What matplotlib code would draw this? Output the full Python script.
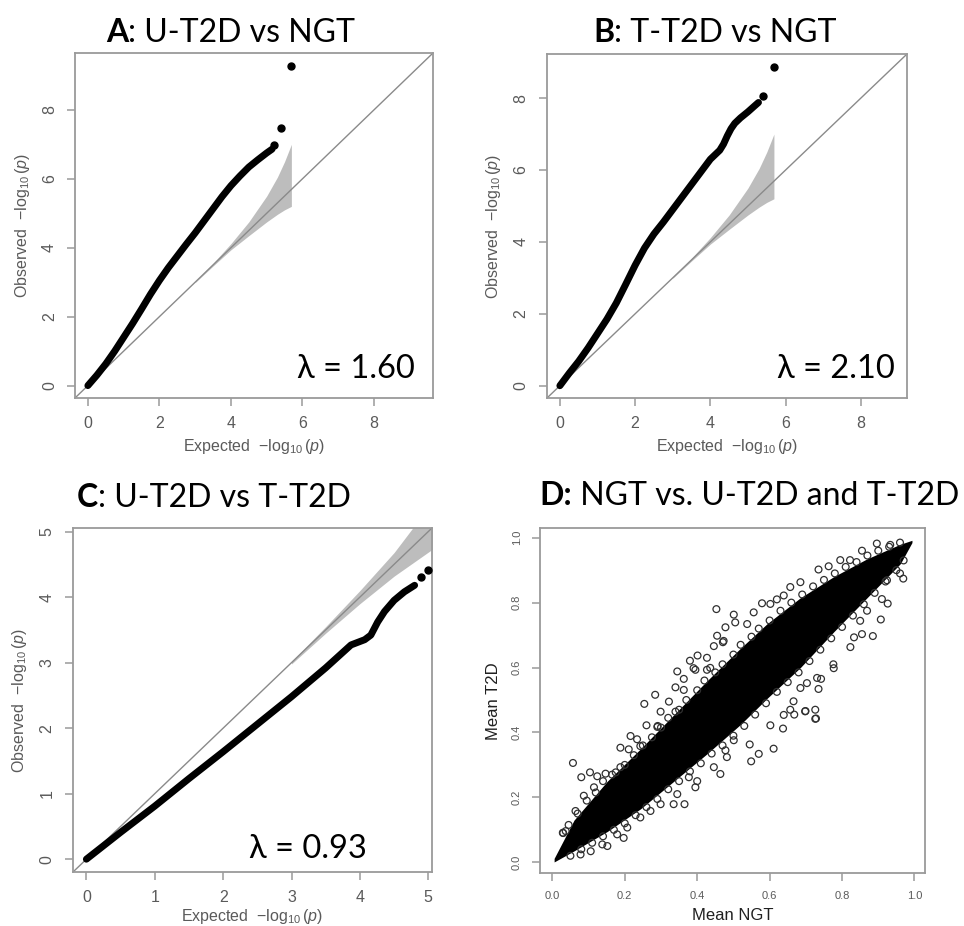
import matplotlib
matplotlib.use("Agg")
import matplotlib.pyplot as plt

W, H = 964, 926
plt.rcParams['mathtext.fontset'] = 'custom'
plt.rcParams['mathtext.rm'] = 'Liberation Sans'
plt.rcParams['mathtext.it'] = 'Liberation Sans:italic'
plt.rcParams['font.family'] = ['Liberation Sans', 'DejaVu Sans']

# ---------------- data ----------------
# Panel A: U-T2D vs NGT
a_exp = [0, 0.25, 0.5, 0.75, 1.0, 1.25, 1.5, 1.75, 2.0, 2.25, 2.5, 2.75, 3.0,
         3.25, 3.5, 3.75, 4.0, 4.25, 4.5, 4.75, 5.0, 5.15]
a_obs = [0, 0.3, 0.63, 1.0, 1.4, 1.8, 2.22, 2.65, 3.05, 3.42, 3.76, 4.1, 4.43,
         4.78, 5.13, 5.48, 5.8, 6.08, 6.34, 6.55, 6.75, 6.86]
a_top_exp = [5.21, 5.40, 5.69]
a_top_obs = [6.98, 7.48, 9.27]
a_lambda = "λ = 1.60"

# Panel B: T-T2D vs NGT
b_exp = [0, 0.25, 0.5, 0.75, 1.0, 1.25, 1.5, 1.75, 2.0, 2.25, 2.5, 2.75, 3.0,
         3.25, 3.5, 3.75, 4.0, 4.25, 4.35, 4.45, 4.55, 4.65, 4.8, 5.0, 5.15, 5.28]
b_obs = [0, 0.35, 0.68, 1.05, 1.45, 1.85, 2.3, 2.82, 3.35, 3.83, 4.22, 4.55, 4.9,
         5.25, 5.6, 5.95, 6.3, 6.55, 6.72, 6.95, 7.15, 7.3, 7.45, 7.62, 7.76, 7.88]
b_top_exp = [5.41, 5.70]
b_top_obs = [8.07, 8.86]
b_lambda = "λ = 2.10"

# confidence band for A and B
ab_band_exp = [3.0, 3.5, 4.0, 4.5, 5.0, 5.3, 5.5, 5.69]
ab_band_hi = [3.02, 3.55, 4.12, 4.75, 5.5, 6.05, 6.5, 7.0]
ab_band_lo = [2.99, 3.47, 3.94, 4.35, 4.75, 4.97, 5.1, 5.2]

# Panel C: U-T2D vs T-T2D
c_exp = [0, 0.5, 1.0, 1.5, 2.0, 2.5, 3.0, 3.5, 3.87, 4.07, 4.16, 4.26, 4.36,
         4.5, 4.65, 4.8]
c_obs = [0, 0.41, 0.81, 1.23, 1.64, 2.06, 2.48, 2.92, 3.27, 3.35, 3.42, 3.62,
         3.78, 3.95, 4.08, 4.18]
c_top_exp = [4.89, 5.0]
c_top_obs = [4.31, 4.41]
c_band_exp = [3.0, 3.5, 4.0, 4.5, 5.06]
c_band_hi = [3.02, 3.55, 4.1, 4.68, 5.45]
c_band_lo = [2.98, 3.45, 3.9, 4.32, 4.73]
c_lambda = "λ = 0.93"

# Panel D: dense core of the scatter (upper / lower edge) and visible single points
d_core_x = [0.005, 0.06, 0.152, 0.244, 0.336, 0.428, 0.52, 0.593, 0.685,
            0.777, 0.869, 0.961, 0.993]
d_core_hi = [0.012, 0.13, 0.25, 0.35, 0.455, 0.56, 0.66, 0.735, 0.815, 0.88,
             0.935, 0.98, 0.992]
d_core_lo = [0.001, 0.035, 0.095, 0.165, 0.25, 0.335, 0.425, 0.505, 0.6, 0.71,
             0.815, 0.92, 0.985]
d_pts = [
    # isolated points above the core
    (0.057, 0.306), (0.080, 0.262), (0.104, 0.277), (0.124, 0.265), (0.188, 0.353),
    (0.254, 0.488), (0.284, 0.516), (0.260, 0.422), (0.291, 0.420), (0.216, 0.389),
    (0.234, 0.379), (0.211, 0.348), (0.243, 0.358), (0.188, 0.293), (0.175, 0.277),
    (0.147, 0.273), (0.087, 0.205), (0.064, 0.158), (0.037, 0.096), (0.029, 0.091),
    (0.115, 0.231), (0.290, 0.417), (0.322, 0.495), (0.299, 0.464), (0.340, 0.464),
    (0.340, 0.539), (0.363, 0.565), (0.363, 0.531), (0.380, 0.621), (0.401, 0.637),
    (0.390, 0.598), (0.427, 0.593), (0.446, 0.666), (0.471, 0.678), (0.453, 0.780),
    (0.501, 0.763), (0.505, 0.739), (0.478, 0.724), (0.455, 0.698), (0.427, 0.630),
    (0.436, 0.599), (0.473, 0.682), (0.538, 0.734), (0.556, 0.770), (0.579, 0.798),
    (0.602, 0.796), (0.639, 0.822), (0.620, 0.810), (0.657, 0.848), (0.685, 0.863),
    (0.735, 0.902), (0.763, 0.912), (0.795, 0.931), (0.822, 0.931), (0.855, 0.960),
    (0.896, 0.982), (0.933, 0.978), (0.345, 0.588), (0.395, 0.593),
    # isolated points below the core
    (0.335, 0.179), (0.365, 0.179), (0.345, 0.210), (0.395, 0.231), (0.400, 0.250),
    (0.377, 0.262), (0.446, 0.293), (0.464, 0.272), (0.482, 0.324), (0.501, 0.376),
    (0.478, 0.345), (0.243, 0.138), (0.207, 0.107), (0.152, 0.050), (0.138, 0.055),
    (0.179, 0.086), (0.078, 0.024), (0.106, 0.034), (0.271, 0.158), (0.299, 0.179),
    (0.197, 0.075), (0.549, 0.311), (0.570, 0.334), (0.545, 0.363), (0.611, 0.350),
    (0.637, 0.412), (0.668, 0.455), (0.699, 0.466), (0.728, 0.443), (0.735, 0.534),
    (0.703, 0.552), (0.742, 0.565), (0.777, 0.598), (0.823, 0.663), (0.885, 0.697),
    (0.907, 0.748), (0.926, 0.797), (0.969, 0.874), (0.960, 0.890), (0.910, 0.811),
    (0.855, 0.703), (0.833, 0.693), (0.776, 0.610), (0.731, 0.568), (0.726, 0.470),
    (0.698, 0.465), (0.726, 0.442), (0.666, 0.496), (0.639, 0.454), (0.657, 0.470),
    (0.685, 0.537), (0.850, 0.744), (0.869, 0.775), (0.924, 0.869), (0.602, 0.422),
    # points along the upper edge of the core
    (0.030, 0.090), (0.045, 0.115), (0.070, 0.150), (0.095, 0.190), (0.120, 0.215),
    (0.140, 0.250), (0.165, 0.270), (0.200, 0.300), (0.225, 0.330), (0.250, 0.360),
    (0.275, 0.385), (0.300, 0.415), (0.320, 0.445), (0.350, 0.470), (0.370, 0.500),
    (0.400, 0.530), (0.420, 0.560), (0.450, 0.585), (0.470, 0.610), (0.500, 0.640),
    (0.520, 0.670), (0.550, 0.695), (0.570, 0.720), (0.600, 0.745), (0.630, 0.775),
    (0.660, 0.800), (0.690, 0.825), (0.720, 0.850), (0.750, 0.870), (0.780, 0.890),
    (0.810, 0.910), (0.840, 0.925), (0.870, 0.945), (0.900, 0.960), (0.930, 0.972),
    (0.960, 0.985),
    # points along the lower edge of the core
    (0.050, 0.020), (0.080, 0.040), (0.110, 0.060), (0.140, 0.080), (0.170, 0.100),
    (0.200, 0.120), (0.230, 0.145), (0.260, 0.170), (0.290, 0.195), (0.320, 0.225),
    (0.350, 0.250), (0.380, 0.280), (0.410, 0.305), (0.440, 0.335), (0.470, 0.360),
    (0.500, 0.390), (0.530, 0.420), (0.560, 0.455), (0.590, 0.490), (0.620, 0.525),
    (0.650, 0.555), (0.680, 0.585), (0.710, 0.620), (0.740, 0.655), (0.770, 0.690),
    (0.800, 0.725), (0.830, 0.760), (0.860, 0.795), (0.890, 0.830), (0.920, 0.865),
    (0.950, 0.900), (0.970, 0.930),
]
d_x = [p[0] for p in d_pts]
d_y = [p[1] for p in d_pts]

qq_ticks_ab = [0, 2, 4, 6, 8]
qq_ticks_c = [0, 1, 2, 3, 4, 5]
d_ticks = [0.0, 0.2, 0.4, 0.6, 0.8, 1.0]
d_ticklabels = ["0.0", "0.2", "0.4", "0.6", "0.8", "1.0"]

# ---------------- figure ----------------
fig = plt.figure(figsize=(W / 100, H / 100), dpi=100)

def px_axes(l, t, r, b):
    return fig.add_axes([l / W, 1 - b / H, (r - l) / W, (b - t) / H])

GRAY = '#9a9a9a'
TXT = '#5a5a5a'

def style_axes(ax, fs):
    for s in ax.spines.values():
        s.set_color(GRAY)
        s.set_linewidth(1.3)
    ax.tick_params(direction='out', length=6, width=1.1, color=GRAY,
                   labelcolor=TXT, labelsize=fs, pad=7)
    for lab in ax.get_yticklabels():
        lab.set_rotation(90)
        lab.set_va('center')

def qq_panel(ax, lim, ticks, ex, ob, tex, tob, bx, bhi, blo, lam, lam_pos, xl_y):
    ax.set_xlim(lim)
    ax.set_ylim(lim)
    ax.fill_between(bx, blo, bhi, color='#bdbdbd', lw=0, zorder=1)
    ax.plot(lim, lim, color='#8a8a8a', lw=1.0, zorder=2)
    ax.plot(ex, ob, color='black', lw=5.0, solid_capstyle='round',
            solid_joinstyle='round', zorder=3)
    ax.plot(tex, tob, 'o', color='black', ms=5, zorder=3)
    ax.set_xticks(ticks)
    ax.set_yticks(ticks)
    ax.set_xticklabels([str(t) for t in ticks])
    ax.set_yticklabels([str(t) for t in ticks])
    style_axes(ax, 11.5)
    ax.text(0.5, xl_y, r'Expected  $-\log_{10}(p)$', transform=ax.transAxes,
            ha='center', va='center', color=TXT, fontsize=11.5)
    ax.text(-0.148, 0.5, r'Observed  $-\log_{10}(p)$', transform=ax.transAxes,
            ha='center', va='center', color=TXT, fontsize=11.5, rotation=90)
    ax.text(lam_pos[0], lam_pos[1], lam, transform=ax.transAxes, ha='right',
            va='baseline', fontsize=23.5, family=['Lato', 'Open Sans', 'DejaVu Sans'])

axA = px_axes(75, 53, 433, 398)
qq_panel(axA, (-0.36, 9.65), qq_ticks_ab, a_exp, a_obs, a_top_exp, a_top_obs,
         ab_band_exp, ab_band_hi, ab_band_lo, a_lambda, (0.95, 0.057), -0.141)

axB = px_axes(546.7, 54.3, 906.7, 398.3)
qq_panel(axB, (-0.35, 9.22), qq_ticks_ab, b_exp, b_obs, b_top_exp, b_top_obs,
         ab_band_exp, ab_band_hi, ab_band_lo, b_lambda, (0.9675, 0.058), -0.141)

axC = px_axes(72.7, 528.3, 431.7, 872.3)
qq_panel(axC, (-0.2, 5.05), qq_ticks_c, c_exp, c_obs, c_top_exp, c_top_obs,
         c_band_exp, c_band_hi, c_band_lo, c_lambda, (0.819, 0.041), -0.128)

axD = px_axes(540, 528.3, 925, 873.3)
axD.set_xlim(-0.034, 1.029)
axD.set_ylim(-0.034, 1.029)
axD.fill_between(d_core_x, d_core_lo, d_core_hi, color='black', lw=0, zorder=2)
axD.scatter(d_x, d_y, s=24, facecolors='none', edgecolors='#303030',
            linewidths=0.9, zorder=3)
axD.set_xticks(d_ticks)
axD.set_yticks(d_ticks)
axD.set_xticklabels(d_ticklabels)
axD.set_yticklabels(d_ticklabels)
style_axes(axD, 8)
axD.text(0.5, -0.122, 'Mean NGT', transform=axD.transAxes, ha='center',
         va='center', color='#202020', fontsize=12)
axD.text(-0.122, 0.5, 'Mean T2D', transform=axD.transAxes, ha='center',
         va='center', color='#202020', fontsize=12, rotation=90)

# ---------------- titles (bold letter + regular text) ----------------
renderer = fig.canvas.get_renderer()
TFS = 23

def title(x_px, base_px, bold, rest):
    t1 = fig.text(x_px / W, 1 - base_px / H, bold, fontsize=TFS, fontweight='bold',
                  family=['Lato', 'DejaVu Sans'], va='baseline', ha='left')
    bb = t1.get_window_extent(renderer=renderer)
    fig.text(bb.x1 / W, 1 - base_px / H, rest, fontsize=TFS,
             family=['Lato', 'DejaVu Sans'], va='baseline', ha='left')

title(106, 41.7, 'A', ': U-T2D vs NGT')
title(593, 41.7, 'B', ': T-T2D vs NGT')
title(77, 506.7, 'C', ': U-T2D vs T-T2D')
title(539, 505, 'D:', ' NGT vs. U-T2D and T-T2D')

fig.savefig('out.png', dpi=100)
